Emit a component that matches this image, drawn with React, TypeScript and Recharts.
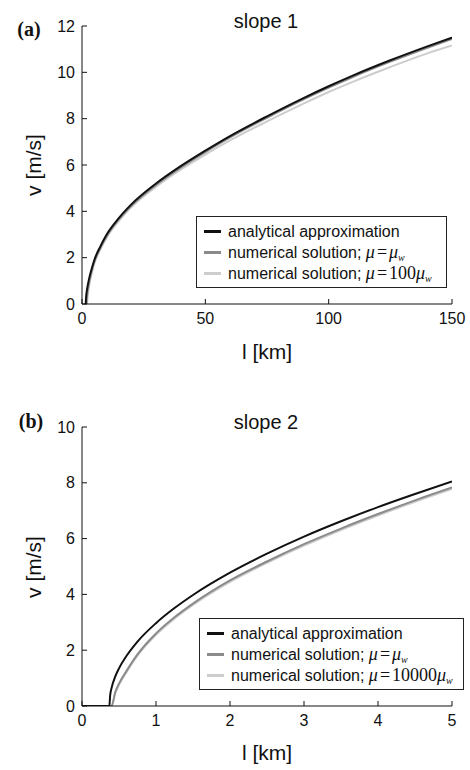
import React from 'react';
import { LineChart, Line, XAxis, YAxis } from 'recharts';

// ---- Panel (a): slope 1 ----
const aAnalyticL = [1.5, 1.7, 2, 2.5, 3, 4, 5, 7.5, 10, 15, 20, 30, 40, 50, 60, 75, 90, 100, 110, 125, 140, 150];
const aAnalyticV = [0, 0.35, 0.6, 0.9, 1.15, 1.55, 1.9, 2.5, 3.0, 3.72, 4.3, 5.2, 5.95, 6.62, 7.25, 8.1, 8.9, 9.4, 9.87, 10.52, 11.12, 11.5];
const aNumL = [1.8, 2, 2.5, 3, 4, 5, 7.5, 10, 15, 20, 30, 40, 50, 60, 75, 90, 100, 110, 125, 140, 150];
const aNumV = [0, 0.3, 0.7, 1.0, 1.45, 1.82, 2.43, 2.93, 3.66, 4.24, 5.14, 5.89, 6.56, 7.19, 8.04, 8.84, 9.34, 9.81, 10.46, 11.06, 11.44];
const aNum100L = [2, 2.5, 3, 4, 5, 7.5, 10, 15, 20, 30, 40, 50, 60, 75, 90, 100, 110, 125, 140, 150];
const aNum100V = [0, 0.5, 0.85, 1.35, 1.75, 2.37, 2.87, 3.59, 4.18, 5.06, 5.8, 6.45, 7.06, 7.88, 8.66, 9.15, 9.6, 10.23, 10.82, 11.16];
const aXTicks = [0, 50, 100, 150];
const aYTicks = [0, 2, 4, 6, 8, 10, 12];

// ---- Panel (b): slope 2 ----
const bAnalyticL = [0, 0.37, 0.38, 0.4, 0.45, 0.5, 0.6, 0.75, 1, 1.25, 1.5, 2, 2.5, 3, 3.5, 4, 4.5, 5];
const bAnalyticV = [0, 0, 0.37, 0.65, 1.06, 1.35, 1.79, 2.31, 2.97, 3.51, 3.98, 4.78, 5.46, 6.07, 6.62, 7.13, 7.6, 8.05];
const bNumL = [0, 0.4, 0.45, 0.5, 0.6, 0.75, 1, 1.25, 1.5, 2, 2.5, 3, 3.5, 4, 4.5, 5];
const bNumV = [0, 0, 0.5, 0.8, 1.25, 1.85, 2.6, 3.18, 3.67, 4.5, 5.18, 5.8, 6.36, 6.88, 7.37, 7.83];
const bNum10000V = [0, 0, 0.46, 0.76, 1.2, 1.8, 2.55, 3.13, 3.62, 4.45, 5.13, 5.75, 6.31, 6.83, 7.32, 7.78];
const bXTicks = [0, 1, 2, 3, 4, 5];
const bYTicks = [0, 2, 4, 6, 8, 10];

const toPts = (ls: number[], vs: number[]) => ls.map((l, i) => ({ l, v: vs[i] }));

const C_BLACK = '#111111';
const C_GRAY = '#8a8a8a';
const C_LIGHT = '#cdcdcd';
const SANS = '"Liberation Sans", Arial, Helvetica, sans-serif';
const SERIF = '"Liberation Serif", "Times New Roman", serif';

const tickStyle = { fontSize: 16, fill: '#111', fontFamily: SANS };
const axisLine = { stroke: '#111', strokeWidth: 1 };

function Mu({ factor }: { factor?: string }) {
  return (
    <span style={{ fontFamily: SERIF, fontSize: 18 }}>
      <i>μ</i>
      <span style={{ margin: '0 2px' }}>=</span>
      {factor ? <span>{factor}</span> : null}
      <i>μ</i>
      <sub style={{ fontSize: 10, fontStyle: 'italic', verticalAlign: -3 }}>w</sub>
    </span>
  );
}

function LegendBox({ left, top, width, factor }: { left: number; top: number; width: number; factor?: string }) {
  const rows = [
    { color: C_BLACK, label: <span>analytical approximation</span> },
    { color: C_GRAY, label: <span>numerical solution; <Mu /></span> },
    { color: C_LIGHT, label: <span>numerical solution; <Mu factor={factor} /></span> },
  ];
  return (
    <div
      style={{
        position: 'absolute',
        left,
        top,
        width,
        height: 72,
        border: '1px solid #222',
        background: '#fff',
        boxSizing: 'border-box',
        fontFamily: SANS,
        fontSize: 16,
        color: '#111',
        paddingTop: 4,
      }}
    >
      {rows.map((r, i) => (
        <div key={i} style={{ display: 'flex', alignItems: 'center', height: 21, whiteSpace: 'nowrap' }}>
          <div style={{ width: 17, height: 3, background: r.color, marginLeft: 7, marginRight: 7 }} />
          {r.label}
        </div>
      ))}
    </div>
  );
}

function Panel({
  top,
  marginTop,
  marginBottom,
  xDomain,
  xTicks,
  yDomain,
  yTicks,
  series,
}: {
  top: number;
  marginTop: number;
  marginBottom: number;
  xDomain: [number, number];
  xTicks: number[];
  yDomain: [number, number];
  yTicks: number[];
  series: { data: { l: number; v: number }[]; color: string; width: number }[];
}) {
  return (
    <div style={{ position: 'absolute', left: 0, top }}>
      <LineChart width={470} height={385} margin={{ top: marginTop, right: 18, left: 22, bottom: marginBottom }}>
        <XAxis
          dataKey="l"
          type="number"
          domain={xDomain}
          ticks={xTicks}
          allowDataOverflow
          axisLine={axisLine}
          tickLine={{ stroke: '#111' }}
          tickSize={-5}
          tickMargin={14}
          tick={tickStyle}
          height={30}
        />
        <YAxis
          dataKey="v"
          type="number"
          domain={yDomain}
          ticks={yTicks}
          allowDataOverflow
          axisLine={axisLine}
          tickLine={{ stroke: '#111' }}
          tickSize={-5}
          tickMargin={12}
          tick={tickStyle}
          width={60}
        />
        {series.map((s, i) => (
          <Line
            key={i}
            data={s.data}
            dataKey="v"
            type="monotone"
            stroke={s.color}
            strokeWidth={s.width}
            dot={false}
            isAnimationActive={false}
          />
        ))}
      </LineChart>
    </div>
  );
}

const labelBase: React.CSSProperties = {
  position: 'absolute',
  fontFamily: SANS,
  color: '#111',
  whiteSpace: 'nowrap',
  transform: 'translate(-50%, -50%)',
};

export default function App() {
  return (
    <div style={{ position: 'absolute', left: 0, top: 0, width: 470, height: 770, background: '#fff', overflow: 'hidden' }}>
      <Panel
        top={0}
        marginTop={26}
        marginBottom={51}
        xDomain={[0, 150]}
        xTicks={aXTicks}
        yDomain={[0, 12]}
        yTicks={aYTicks}
        series={[
          { data: toPts(aNum100L, aNum100V), color: C_LIGHT, width: 2 },
          { data: toPts(aNumL, aNumV), color: C_GRAY, width: 2 },
          { data: toPts(aAnalyticL, aAnalyticV), color: C_BLACK, width: 2 },
        ]}
      />
      <Panel
        top={385}
        marginTop={42}
        marginBottom={34}
        xDomain={[0, 5]}
        xTicks={bXTicks}
        yDomain={[0, 10]}
        yTicks={bYTicks}
        series={[
          { data: toPts(bNumL, bNum10000V), color: C_LIGHT, width: 2 },
          { data: toPts(bNumL, bNumV), color: C_GRAY, width: 2 },
          { data: toPts(bAnalyticL, bAnalyticV), color: C_BLACK, width: 2 },
        ]}
      />

      <LegendBox left={196} top={216} width={251} factor="100" />
      <LegendBox left={199} top={618} width={265} factor="10000" />

      <div style={{ ...labelBase, left: 29, top: 29, fontFamily: SERIF, fontWeight: 'bold', fontSize: 20 }}>(a)</div>
      <div style={{ ...labelBase, left: 31, top: 421, fontFamily: SERIF, fontWeight: 'bold', fontSize: 20 }}>(b)</div>

      <div style={{ ...labelBase, left: 266, top: 21, fontSize: 20 }}>slope 1</div>
      <div style={{ ...labelBase, left: 266, top: 422, fontSize: 20 }}>slope 2</div>

      <div style={{ ...labelBase, left: 267, top: 352, fontSize: 21 }}>l [km]</div>
      <div style={{ ...labelBase, left: 267, top: 753, fontSize: 21 }}>l [km]</div>

      <div style={{ ...labelBase, left: 34, top: 165, fontSize: 21, transform: 'translate(-50%, -50%) rotate(-90deg)' }}>v [m/s]</div>
      <div style={{ ...labelBase, left: 34, top: 567, fontSize: 21, transform: 'translate(-50%, -50%) rotate(-90deg)' }}>v [m/s]</div>
    </div>
  );
}
